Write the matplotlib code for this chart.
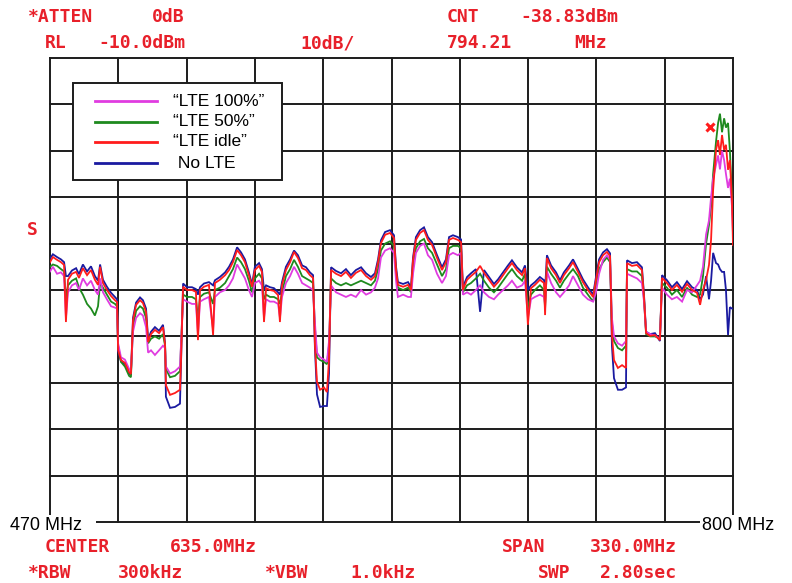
import matplotlib
matplotlib.use("Agg")
import matplotlib.pyplot as plt
from matplotlib.patches import Rectangle
from matplotlib.lines import Line2D

# ---------------- data (MHz, dBm) ----------------
freq = [470.0, 471.4, 473.4, 475.3, 476.8, 477.7, 478.7, 480.6, 482.6, 484.0,
        485.9, 487.9, 489.8, 491.7, 493.2, 494.2, 495.6, 497.5, 499.5, 501.4,
        502.4, 502.9, 504.3, 506.2, 508.2, 509.1, 510.1, 511.6, 513.5, 514.9,
        516.4, 517.4, 518.8, 520.7, 522.7, 524.6, 525.6, 526.0, 528.0, 530.4,
        532.8, 533.3, 534.3, 536.2, 538.6, 540.5, 541.5, 542.5, 544.4, 546.8,
        548.8, 549.7, 552.1, 554.6, 556.5, 558.4, 560.4, 562.3, 564.2, 566.1,
        567.6, 569.0, 571.0, 572.4, 573.4, 574.4, 576.3, 578.2, 580.2, 581.1,
        582.1, 584.0, 586.0, 587.9, 589.8, 591.8, 593.7, 595.6, 597.1, 598.0,
        599.0, 600.5, 602.4, 603.8, 604.8, 605.8, 608.2, 610.6, 613.0, 615.4,
        617.8, 620.3, 622.7, 625.1, 627.0, 628.5, 629.9, 631.9, 634.3, 636.2,
        637.2, 638.1, 640.6, 643.0, 644.4, 645.4, 646.8, 648.8, 650.7, 652.6,
        654.6, 657.0, 659.4, 661.3, 662.8, 664.7, 667.1, 668.6, 669.5, 671.5,
        673.4, 675.8, 677.8, 679.7, 682.1, 684.5, 686.5, 688.9, 691.3, 693.2,
        695.6, 698.1, 699.5, 700.9, 702.4, 704.3, 706.7, 708.7, 709.2, 710.1,
        712.1, 714.5, 716.4, 718.3, 720.8, 722.7, 725.1, 727.5, 729.9, 732.4,
        733.8, 735.3, 737.2, 739.1, 740.6, 741.5, 742.5, 744.4, 746.4, 748.3,
        748.8, 751.2, 753.6, 756.0, 757.0, 758.0, 759.9, 762.3, 764.7, 765.7,
        768.1, 770.5, 772.9, 775.4, 777.8, 780.2, 782.6, 784.1, 785.5, 787.0,
        788.4, 789.4, 790.4, 791.8, 792.8, 793.7, 794.7, 795.7, 796.6, 797.6,
        798.5, 799.5, 800.0]

lte_idle = [-54.0, -52.9, -53.5, -54.0, -54.6, -66.9, -57.8, -56.5, -56.1, -57.4,
            -55.3, -56.8, -55.7, -57.8, -58.9, -55.0, -58.5, -60.0, -61.3, -62.2,
            -62.6, -72.9, -75.1, -75.7, -77.7, -78.1, -66.5, -63.2, -62.2, -62.8,
            -64.7, -71.2, -69.5, -68.6, -69.3, -68.0, -71.8, -80.5, -82.6, -82.2,
            -81.5, -75.1, -59.3, -60.0, -60.0, -60.4, -70.8, -60.0, -59.3, -58.9,
            -69.7, -58.5, -57.8, -56.8, -55.7, -54.0, -51.4, -52.5, -54.0, -56.8,
            -59.3, -55.7, -54.8, -56.1, -66.9, -59.6, -60.0, -60.2, -61.1, -66.9,
            -58.9, -55.7, -54.0, -51.8, -53.1, -55.3, -55.7, -56.8, -57.4, -71.8,
            -79.8, -81.5, -81.0, -82.0, -75.1, -55.7, -56.5, -57.0, -56.1, -57.4,
            -56.3, -55.7, -57.0, -57.8, -57.0, -54.0, -49.9, -48.1, -47.7, -48.8,
            -55.7, -58.9, -59.3, -58.9, -60.0, -53.5, -49.2, -47.7, -47.1, -49.2,
            -50.3, -53.1, -55.7, -54.0, -49.2, -48.8, -49.2, -49.7, -60.0, -57.8,
            -57.0, -56.1, -54.8, -56.3, -57.8, -59.3, -58.3, -56.8, -55.3, -54.2,
            -55.7, -56.8, -55.3, -67.5, -59.6, -58.9, -57.8, -58.5, -65.4, -53.1,
            -55.3, -56.8, -58.5, -56.8, -55.3, -54.0, -56.1, -58.3, -60.0, -61.5,
            -57.8, -54.0, -52.5, -51.8, -52.7, -69.7, -75.1, -76.8, -76.2, -76.8,
            -54.2, -54.8, -54.6, -55.7, -61.5, -69.3, -69.9, -69.7, -70.8, -57.4,
            -58.5, -60.0, -58.9, -60.4, -58.7, -60.0, -60.6, -63.2, -60.0, -57.8,
            -54.6, -49.2, -38.4, -29.8, -27.7, -30.9, -26.6, -29.8, -28.7, -34.1,
            -32.0, -40.6, -50.3]

no_lte = [-53.2, -52.3, -52.9, -53.4, -54.0, -57.0, -57.0, -55.8, -55.3, -56.6,
          -54.5, -56.0, -54.9, -57.0, -58.0, -54.5, -57.8, -59.3, -60.6, -61.5,
          -62.0, -73.2, -75.4, -76.0, -78.0, -78.3, -66.0, -62.7, -61.6, -62.2,
          -64.0, -70.6, -69.0, -68.0, -68.8, -67.5, -71.5, -83.0, -85.4, -85.2,
          -84.5, -76.0, -58.6, -59.4, -59.4, -59.8, -61.0, -59.4, -58.6, -58.3,
          -59.0, -57.9, -57.2, -56.2, -55.0, -53.4, -50.8, -51.9, -53.4, -56.2,
          -58.8, -55.0, -54.2, -55.5, -60.0, -59.0, -59.4, -59.6, -60.5, -61.0,
          -58.3, -55.0, -53.4, -51.5, -52.5, -54.7, -55.1, -56.2, -56.8, -72.5,
          -82.5, -85.2, -85.0, -85.0, -78.0, -55.1, -55.9, -56.4, -55.5, -56.8,
          -55.7, -55.1, -56.4, -57.2, -56.4, -53.4, -49.3, -47.5, -47.1, -48.2,
          -55.0, -58.3, -58.7, -58.3, -59.4, -53.0, -48.6, -47.1, -46.5, -48.6,
          -49.7, -52.5, -55.1, -53.4, -48.6, -48.2, -48.6, -49.1, -59.4, -57.2,
          -56.4, -55.5, -64.7, -55.7, -57.2, -58.7, -57.7, -56.2, -54.7, -53.6,
          -55.1, -56.2, -54.7, -60.0, -59.0, -58.3, -57.2, -57.9, -60.0, -52.5,
          -54.7, -56.2, -57.9, -56.2, -54.7, -53.4, -55.5, -57.7, -59.4, -61.0,
          -57.2, -53.4, -51.9, -51.2, -52.1, -72.0, -79.0, -81.5, -81.5, -81.0,
          -53.6, -54.2, -54.0, -55.1, -61.0, -69.0, -69.5, -69.3, -71.0, -56.8,
          -57.9, -59.4, -58.3, -59.8, -58.1, -59.4, -60.0, -62.0, -61.0, -57.0,
          -62.0, -58.0, -52.0, -54.2, -54.5, -55.5, -56.1, -56.1, -60.0, -69.7,
          -63.7, -64.0, -64.0]

lte_50 = [-55.0, -54.5, -54.8, -55.5, -56.0, -62.0, -59.0, -58.0, -57.5, -59.5,
          -61.0, -63.0, -64.0, -65.5, -63.5, -58.5, -59.5, -61.0, -62.5, -63.0,
          -63.5, -72.0, -75.5, -76.5, -78.5, -78.8, -68.0, -64.5, -63.5, -64.0,
          -66.0, -71.5, -70.5, -70.0, -70.5, -69.5, -72.0, -77.0, -78.8, -78.5,
          -77.5, -72.0, -61.0, -61.5, -61.5, -62.0, -66.0, -61.5, -60.8, -60.5,
          -63.0, -60.0, -59.5, -58.5, -57.0, -55.5, -53.0, -54.0, -55.5, -58.0,
          -60.5, -57.5, -56.5, -57.5, -62.0, -61.0, -61.5, -61.5, -62.0, -63.0,
          -60.5, -57.0, -55.5, -53.5, -55.0, -57.0, -57.5, -58.0, -58.5, -68.0,
          -74.5, -75.1, -75.5, -76.0, -72.0, -57.5, -58.5, -59.0, -58.5, -59.0,
          -58.5, -58.0, -58.5, -59.0, -58.0, -55.5, -51.5, -50.0, -49.5, -50.5,
          -56.5, -59.5, -60.0, -59.5, -60.5, -55.0, -51.0, -49.5, -49.0, -51.0,
          -52.0, -54.5, -57.0, -55.5, -51.0, -50.5, -50.5, -51.0, -60.5, -59.0,
          -58.5, -57.5, -56.5, -58.0, -59.5, -60.5, -59.5, -58.0, -56.5, -55.5,
          -57.0, -58.0, -56.5, -64.0, -61.0, -60.0, -59.0, -60.0, -64.0, -55.0,
          -56.5, -58.0, -59.5, -58.0, -56.5, -55.5, -57.0, -59.5, -61.0, -62.5,
          -59.0, -55.5, -54.0, -53.0, -54.0, -67.0, -71.0, -72.5, -73.0, -72.0,
          -55.5, -56.0, -56.0, -57.0, -62.0, -69.5, -70.0, -70.0, -70.5, -58.5,
          -59.5, -61.0, -60.0, -61.5, -59.5, -61.0, -61.5, -61.0, -57.0, -50.0,
          -46.0, -42.0, -35.0, -28.0, -24.0, -22.0, -26.0, -23.0, -25.0, -24.0,
          -30.0, -40.0, -45.0]

lte_100 = [-56.0, -55.0, -56.5, -56.2, -57.0, -66.0, -60.5, -59.0, -58.5, -60.0,
           -57.5, -59.0, -58.0, -60.0, -61.0, -57.5, -60.5, -62.0, -63.5, -63.8,
           -64.0, -71.5, -74.5, -75.0, -77.0, -77.5, -69.0, -66.0, -65.0, -65.5,
           -68.0, -73.5, -73.0, -74.0, -73.0, -72.0, -72.5, -76.5, -78.0, -77.5,
           -76.5, -71.5, -62.0, -62.5, -63.0, -63.0, -69.5, -62.5, -62.0, -61.5,
           -68.5, -61.5, -60.5, -60.0, -59.0, -57.5, -54.5, -56.0, -57.5, -60.0,
           -61.5, -58.5, -58.0, -59.0, -66.0, -62.0, -62.5, -62.5, -63.0, -66.0,
           -61.5, -58.5, -57.0, -55.0, -56.5, -58.5, -59.0, -59.5, -60.0, -67.0,
           -73.5, -74.5, -75.0, -75.5, -71.0, -59.0, -60.5, -61.0, -61.5, -61.0,
           -61.5, -60.0, -61.0, -60.5, -59.5, -57.5, -53.0, -51.5, -51.0, -52.0,
           -58.0, -61.5, -61.0, -61.5, -61.5, -56.5, -52.0, -50.5, -50.0, -52.5,
           -53.5, -56.5, -58.5, -57.0, -52.5, -52.0, -52.5, -52.0, -61.0, -60.5,
           -61.0, -60.0, -59.0, -60.5, -61.5, -62.0, -61.0, -60.0, -59.0, -58.0,
           -59.5, -59.0, -58.0, -66.0, -62.0, -61.5, -61.0, -61.5, -63.0, -56.0,
           -58.5, -60.5, -61.5, -60.5, -59.0, -57.0, -59.0, -61.0, -62.0, -62.5,
           -60.5, -56.5, -53.5, -52.5, -53.5, -66.0, -70.0, -71.5, -72.0, -71.0,
           -56.5, -57.0, -57.5, -58.5, -62.5, -69.0, -69.5, -69.8, -70.5, -59.5,
           -61.0, -62.0, -61.5, -62.5, -60.0, -60.5, -59.0, -58.0, -55.0, -48.0,
           -45.0, -40.0, -36.0, -33.0, -31.0, -34.0, -30.0, -32.0, -35.0, -38.0,
           -36.0, -42.0, -48.0]

series_labels = ["\u201cLTE 100%\u201d", "\u201cLTE 50%\u201d", "\u201cLTE idle\u201d", " No LTE"]
series_colors = ["#e03ce0", "#1e8a1e", "#ff1c1c", "#1a1aa0"]
series_values = [lte_100, lte_50, lte_idle, no_lte]

marker_freq = [788.9]
marker_level = [-24.9]

x_range = [470, 800]
y_range = [-110, -10]
n_div = 10

top_rows = [
    [(28, "*ATTEN"), (152, "0dB"), (447, "CNT"), (520, "-38.83dBm")],
    [(45, "RL"), (98, "-10.0dBm"), (300, "10dB/"), (447, "794.21"), (574, "MHz")],
]
bottom_rows = [
    [(45, "CENTER"), (170, "635.0MHz"), (502, "SPAN"), (590, "330.0MHz")],
    [(28, "*RBW"), (118, "300kHz"), (265, "*VBW"), (350, "1.0kHz"), (538, "SWP"), (600, "2.80sec")],
]
left_label = "470 MHz"
right_label = "800 MHz"

# ---------------- figure ----------------
W, H = 792, 583
fig = plt.figure(figsize=(W / 100, H / 100), dpi=100)
fig.patch.set_facecolor("white")


def fx(x):
    return x / W


def fy(y):
    return 1 - y / H


ax = fig.add_axes([fx(50), fy(522), 683 / W, 464 / H])
ax.set_xlim(*x_range)
ax.set_ylim(*y_range)
for s in ax.spines.values():
    s.set_visible(False)
ax.set_xticks([])
ax.set_yticks([])

grid_col = "#1c1c1c"
for i in range(n_div + 1):
    xv = x_range[0] + (x_range[1] - x_range[0]) * i / n_div
    yv = y_range[0] + (y_range[1] - y_range[0]) * i / n_div
    ax.axvline(xv, color=grid_col, lw=1.4, zorder=1, clip_on=False)
    ax.axhline(yv, color=grid_col, lw=1.4, zorder=1, clip_on=False)

# draw traces: blue, green, magenta, red on top
order = [3, 1, 0, 2]
for k in order:
    ax.plot(freq, series_values[k], color=series_colors[k], lw=1.3, zorder=3 + order.index(k),
            solid_joinstyle="miter")

ax.plot(marker_freq, marker_level, "x", color="#ff1c1c", ms=6, mew=2.2, zorder=8)

# ---------------- legend (drawn box) ----------------
fig.add_artist(Rectangle((fx(73), fy(180)), (282 - 73) / W, (180 - 83) / H,
                         transform=fig.transFigure, facecolor="white",
                         edgecolor="#1c1c1c", lw=1.4, zorder=10))
row_y = [101, 122, 142, 163]
for lab, col, yy in zip(series_labels, series_colors, row_y):
    fig.add_artist(Line2D([fx(95), fx(157)], [fy(yy), fy(yy)], transform=fig.transFigure,
                          color=col, lw=2.0, zorder=11))
    fig.text(fx(173), fy(yy), lab, fontsize=12.5, family="Liberation Sans",
             va="center", ha="left", zorder=12)

# ---------------- analyzer annotations ----------------
red_txt = "#e8202a"
for yy, row in zip([17, 43], top_rows):
    for xx, t in row:
        fig.text(fx(xx), fy(yy), t, fontsize=13, family="DejaVu Sans Mono",
                 weight="bold", color=red_txt, va="center", ha="left")
for yy, row in zip([547, 573], bottom_rows):
    for xx, t in row:
        fig.text(fx(xx), fy(yy), t, fontsize=13, family="DejaVu Sans Mono",
                 weight="bold", color=red_txt, va="center", ha="left")
fig.text(fx(32), fy(230), "S", fontsize=13, family="DejaVu Sans Mono",
         weight="bold", color=red_txt, va="center", ha="center")

# bottom corner labels with white background covering the axis ends
fig.add_artist(Rectangle((fx(4), fy(538)), 92 / W, 23 / H, transform=fig.transFigure,
                         facecolor="white", edgecolor="none", zorder=10))
fig.add_artist(Rectangle((fx(700), fy(538)), 88 / W, 23 / H, transform=fig.transFigure,
                         facecolor="white", edgecolor="none", zorder=10))
fig.text(fx(10), fy(525), left_label, fontsize=13, family="Liberation Sans",
         va="center", ha="left", zorder=12)
fig.text(fx(702), fy(525), right_label, fontsize=13, family="Liberation Sans",
         va="center", ha="left", zorder=12)

fig.savefig("out.png", dpi=100, facecolor="white")
